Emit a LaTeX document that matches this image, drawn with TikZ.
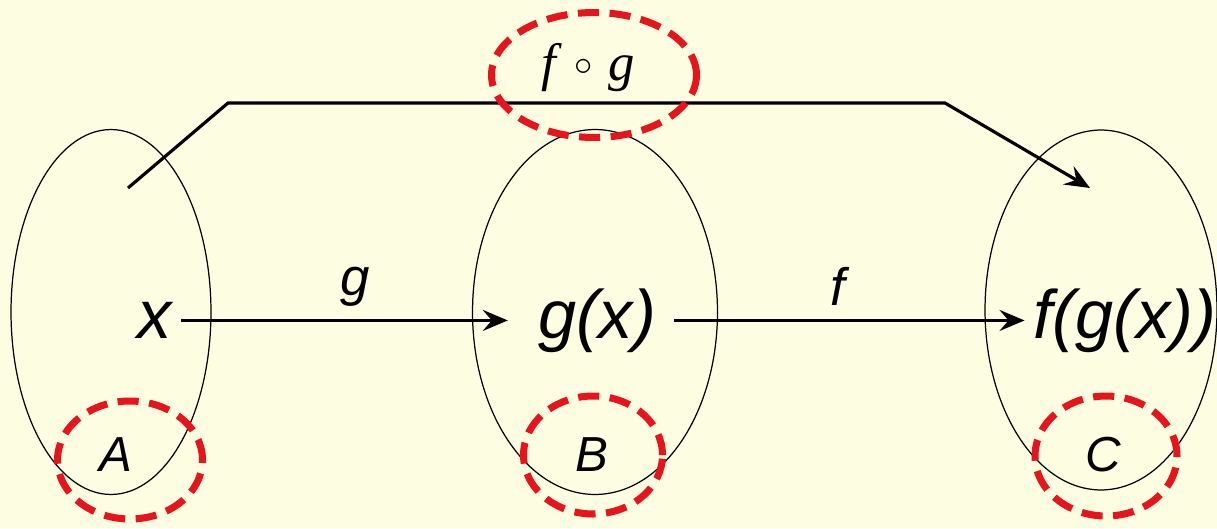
\documentclass[tikz,border=0pt]{standalone}
\usepackage{fontspec}
\setmainfont{Liberation Sans}
\newfontfamily\serifit{Liberation Serif}
\usetikzlibrary{arrows.meta, positioning, shapes.geometric}
\definecolor{paper}{HTML}{FDFDE2}
\definecolor{ringred}{HTML}{E8141B}

\begin{document}
\begin{tikzpicture}[
        x=0.02cm, y=-0.02cm,
        setel/.style={ellipse, draw, line width=0.7pt, inner sep=0pt},
        ring/.style={ellipse, draw=ringred, line width=4pt, inner sep=0pt,
                     dash pattern=on 12pt off 6pt},
        elem/.style={inner sep=5pt, font=\fontsize{39}{39}\selectfont\itshape,
                     text height=28pt, text depth=8pt, anchor=base},
        setname/.style={font=\fontsize{28}{28}\selectfont\itshape},
        fname/.style={font=\fontsize{30}{30}\selectfont\itshape},
        line/.style={line width=1.8pt, -{Stealth[length=5mm, width=4.2mm, inset=1.8mm]}}
    ]
    \fill [paper] (0,0) rectangle (1217,528);
    \useasboundingbox (0,0) rectangle (1217,528);
    % the three sets
    \node [setel, minimum width=4cm, minimum height=7.3cm] (setA) at (111,312) {};
    \node [setel, minimum width=4.9cm, minimum height=7.3cm] (setB) at (595,312) {};
    \node [setel, minimum width=4.64cm, minimum height=7.2cm] (setC) at (1101,310) {};
    % elements
    \node [elem] (x) at (155,338) {x};
    \node [elem] (gx) at (597,338) {g(x)};
    \node [elem] (fgx) at (1125,338) {f(g(x))};
    \draw [line, shorten >=12pt] (x.east) -- (gx.west)
        node [pos=0.5, above=4pt, fname] (g) {g};
    \draw [line, shorten <=5pt] (gx.east) -- (fgx.west)
        node [pos=0.48, above=4pt, fname] (f) {f};
    % composite map
    \coordinate (start) at (128,188);
    \coordinate (bendL) at (228,103);
    \coordinate (bendR) at (945,103);
    \coordinate (end) at (1090,188);
    \draw [line] (start) -- (bendL) -- (bendR) -- (end);
    \node [font=\fontsize{30}{30}\selectfont\serifit] (comp) at (588,68)
        {\itshape f\hspace{0.35em}\raisebox{0.1em}{\normalfont\fontsize{20}{20}\selectfont$\circ$}\hspace{0.3em}g};
    % set names
    \node [setname] (nameA) at (116,455) {A};
    \node [setname] (nameB) at (592,455) {B};
    \node [setname] (nameC) at (1103,455) {C};
    % highlights
    \node [ring, minimum width=2.9cm, minimum height=2.36cm] (ringA) at (130,460) {};
    \node [ring, minimum width=2.78cm, minimum height=2.36cm] (ringB) at (593,455) {};
    \node [ring, minimum width=2.84cm, minimum height=2.4cm] (ringC) at (1106,456) {};
    \node [ring, minimum width=4.1cm, minimum height=2.5cm] (ringfg) at (594,75) {};
\end{tikzpicture}
\end{document}
